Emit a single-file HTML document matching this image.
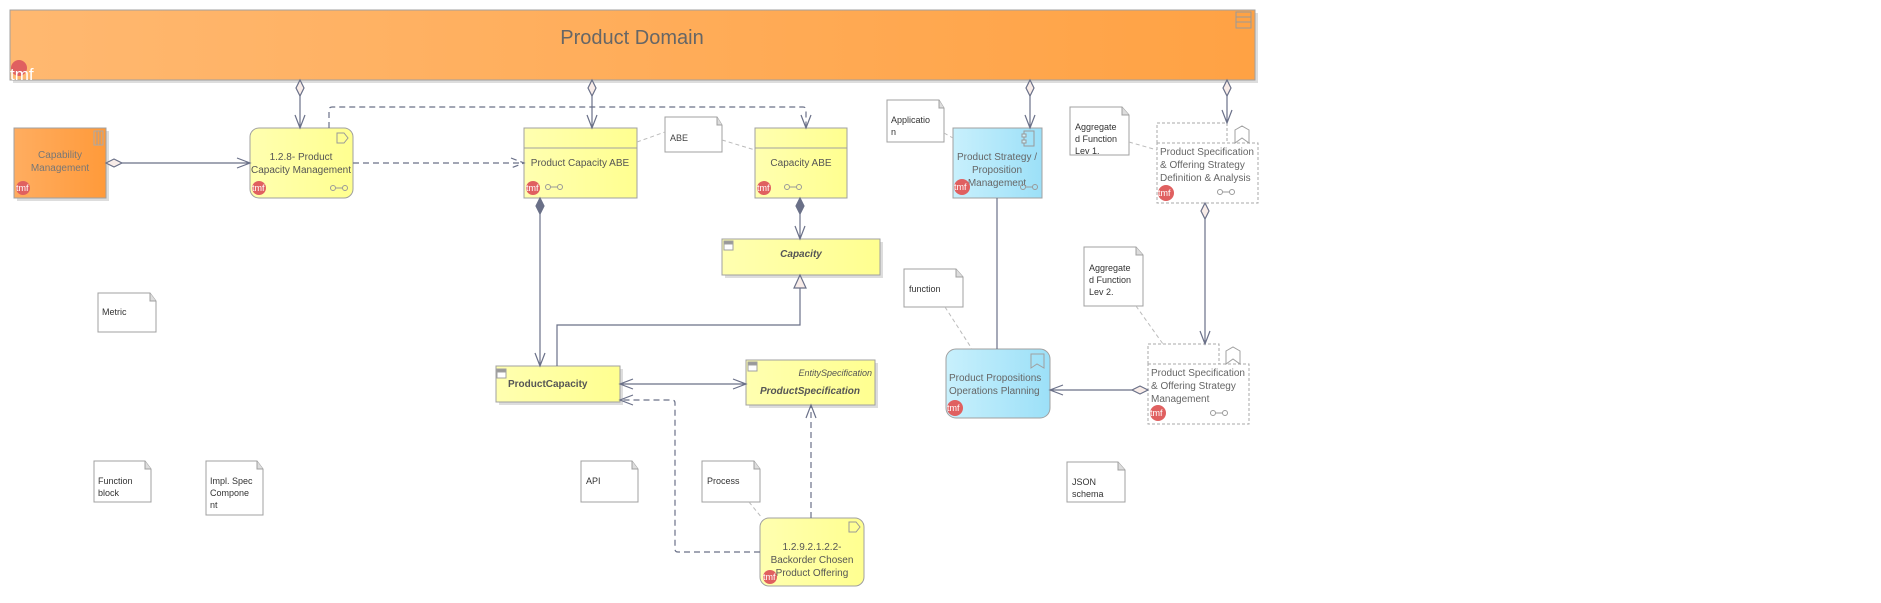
<!DOCTYPE html>
<html><head><meta charset="utf-8"><style>
html,body{margin:0;padding:0;background:#fff;}
svg text{font-family:"Liberation Sans",sans-serif;}
</style></head><body>
<svg width="1881" height="598" viewBox="0 0 1881 598" xmlns="http://www.w3.org/2000/svg">
<defs>
<linearGradient id="gO" x1="0" x2="1"><stop offset="0" stop-color="#ffb870"/><stop offset="1" stop-color="#ffa244"/></linearGradient>
<linearGradient id="gO2" x1="0" x2="1"><stop offset="0" stop-color="#ffad60"/><stop offset="1" stop-color="#ff9a3a"/></linearGradient>
<linearGradient id="gY" x1="0" x2="1"><stop offset="0" stop-color="#ffffb0"/><stop offset="1" stop-color="#ffff90"/></linearGradient>
<linearGradient id="gB" x1="0" x2="1"><stop offset="0" stop-color="#c8f0fc"/><stop offset="1" stop-color="#9ce0f8"/></linearGradient>
</defs>
<g stroke="#a0a0a0" fill="none">
<!-- banner -->
<rect x="13" y="13" width="1245" height="70" fill="#ddd" stroke="none"/>
<rect x="10" y="10" width="1245" height="70" fill="url(#gO)"/>
<text x="632" y="44" font-size="20" fill="#666" stroke="none" text-anchor="middle">Product Domain</text>
<g stroke="#999"><rect x="1236" y="12" width="15" height="16"/><line x1="1236" y1="17" x2="1251" y2="17"/><line x1="1236" y1="22" x2="1251" y2="22"/></g>
<circle cx="19" cy="68" r="8" fill="#e06060" stroke="none"/>
<text x="10" y="80" font-size="17" fill="#fff" stroke="none">tmf</text>

<!-- Capability Management -->
<rect x="17" y="131" width="92" height="70" fill="#ddd" stroke="none"/>
<rect x="14" y="128" width="92" height="70" fill="url(#gO2)"/>
<rect x="94" y="131" width="9" height="14" stroke="#aaa"/><line x1="97" y1="131" x2="97" y2="145"/><line x1="100" y1="131" x2="100" y2="145"/>
<text x="60" y="158" font-size="10" fill="#777" stroke="none" text-anchor="middle">Capability</text>
<text x="60" y="171" font-size="10" fill="#777" stroke="none" text-anchor="middle">Management</text>

<!-- 1.2.8 -->
<rect x="250" y="128" width="103" height="70" rx="9" fill="url(#gY)"/>
<path d="M337 133h7l4 5-4 5h-7z" stroke="#999"/>
<text x="301" y="160" font-size="10" fill="#555" stroke="none" text-anchor="middle">1.2.8- Product</text>
<text x="301" y="173" font-size="10" fill="#555" stroke="none" text-anchor="middle">Capacity Management</text>

<!-- Product Capacity ABE -->
<rect x="524" y="128" width="113" height="70" fill="url(#gY)"/>
<line x1="524" y1="148" x2="637" y2="148"/>
<text x="580" y="166" font-size="10" fill="#555" stroke="none" text-anchor="middle">Product Capacity ABE</text>
<!-- ABE note -->
<path d="M665 117h52l5 8v27h-57z" fill="#fff"/><path d="M717 117v8h5" fill="#ddd"/>
<text x="670" y="141" font-size="9" fill="#444" stroke="none">ABE</text>
<!-- Capacity ABE -->
<rect x="755" y="128" width="92" height="70" fill="url(#gY)"/>
<line x1="755" y1="148" x2="847" y2="148"/>
<text x="801" y="166" font-size="10" fill="#555" stroke="none" text-anchor="middle">Capacity ABE</text>

<!-- Capacity class -->
<rect x="725" y="242" width="158" height="36" fill="#ddd" stroke="none"/>
<rect x="722" y="239" width="158" height="36" fill="url(#gY)"/>
<rect x="724" y="241" width="9" height="9" fill="#fff"/><rect x="724" y="241" width="9" height="3" fill="#999"/>
<text x="801" y="257" font-size="10" font-style="italic" font-weight="bold" fill="#555" stroke="none" text-anchor="middle">Capacity</text>

<!-- ProductCapacity -->
<rect x="499" y="369" width="124" height="36" fill="#ddd" stroke="none"/>
<rect x="496" y="366" width="124" height="36" fill="url(#gY)"/>
<rect x="497" y="369" width="9" height="9" fill="#fff"/><rect x="497" y="369" width="9" height="3" fill="#999"/>
<text x="508" y="387" font-size="10" font-weight="bold" fill="#555" stroke="none">ProductCapacity</text>

<!-- ProductSpecification -->
<rect x="749" y="363" width="129" height="45" fill="#ddd" stroke="none"/>
<rect x="746" y="360" width="129" height="45" fill="url(#gY)"/>
<rect x="748" y="362" width="9" height="9" fill="#fff"/><rect x="748" y="362" width="9" height="3" fill="#999"/>
<text x="872" y="376" font-size="9" font-style="italic" fill="#555" stroke="none" text-anchor="end">EntitySpecification</text>
<text x="810" y="394" font-size="10" font-style="italic" font-weight="bold" fill="#555" stroke="none" text-anchor="middle">ProductSpecification</text>

<!-- Backorder -->
<rect x="760" y="518" width="104" height="68" rx="9" fill="url(#gY)"/>
<path d="M849 522h7l4 5-4 5h-7z" stroke="#999"/>
<text x="812" y="550" font-size="10" fill="#555" stroke="none" text-anchor="middle">1.2.9.2.1.2.2-</text>
<text x="812" y="563" font-size="10" fill="#555" stroke="none" text-anchor="middle">Backorder Chosen</text>
<text x="812" y="576" font-size="10" fill="#555" stroke="none" text-anchor="middle">Product Offering</text>

<!-- notes -->
<g fill="#fff">
<path d="M98 293h52l6 8v31h-58z"/><path d="M887 100h52l5 8v34h-57z"/>
<path d="M1070 107h52l7 8v40h-59z"/><path d="M904 269h52l7 8v30h-59z"/>
<path d="M1084 247h52l7 8v51h-59z"/><path d="M94 461h51l6 8v33h-57z"/>
<path d="M206 461h51l6 8v46h-57z"/><path d="M581 461h51l6 8v33h-57z"/>
<path d="M702 461h52l6 8v33h-58z"/><path d="M1067 462h51l7 8v32h-58z"/>
</g>
<g fill="#ddd">
<path d="M150 293v8h6"/><path d="M939 100v8h5"/><path d="M1122 107v8h7"/><path d="M956 269v8h7"/>
<path d="M1136 247v8h7"/><path d="M145 461v8h6"/><path d="M257 461v8h6"/><path d="M632 461v8h6"/><path d="M754 461v8h6"/><path d="M1118 462v8h7"/>
</g>
<g font-size="9" fill="#333" stroke="none">
<text x="102" y="315">Metric</text>
<text x="891" y="123">Applicatio</text><text x="891" y="135">n</text>
<text x="1075" y="130">Aggregate</text><text x="1075" y="142">d Function</text><text x="1075" y="154">Lev 1.</text>
<text x="909" y="292">function</text>
<text x="1089" y="271">Aggregate</text><text x="1089" y="283">d Function</text><text x="1089" y="295">Lev 2.</text>
<text x="98" y="484">Function</text><text x="98" y="496">block</text>
<text x="210" y="484">Impl. Spec</text><text x="210" y="496">Compone</text><text x="210" y="508">nt</text>
<text x="586" y="484">API</text>
<text x="707" y="484">Process</text>
<text x="1072" y="485">JSON</text><text x="1072" y="497">schema</text>
</g>

<!-- Product Strategy -->
<rect x="953" y="128" width="89" height="70" fill="url(#gB)"/>
<rect x="1024" y="131" width="10" height="15" stroke="#999"/><rect x="1022" y="134" width="4" height="3" fill="#c8f0fc" stroke="#999"/><rect x="1022" y="140" width="4" height="3" fill="#c8f0fc" stroke="#999"/>
<text x="997" y="160" font-size="10" fill="#666" stroke="none" text-anchor="middle">Product Strategy /</text>
<text x="997" y="173" font-size="10" fill="#666" stroke="none" text-anchor="middle">Proposition</text>
<text x="997" y="186" font-size="10" fill="#666" stroke="none" text-anchor="middle">Management</text>

<!-- PS&OS Definition -->
<g stroke-dasharray="3,2" stroke="#aaa">
<path d="M1157 143v-20h70v20"/><rect x="1157" y="143" width="101" height="60" fill="#fff"/>
<path d="M1148 364v-20h71v20"/><rect x="1148" y="364" width="101" height="60" fill="#fff"/>
</g>
<path d="M1235 143v-13l7-4 7 4v13l-7-5z"/>
<path d="M1226 364v-13l7-4 7 4v13l-7-5z"/>
<g font-size="10" fill="#666" stroke="none">
<text x="1160" y="155">Product Specification</text><text x="1160" y="168">&amp; Offering Strategy</text><text x="1160" y="181">Definition &amp; Analysis</text>
<text x="1151" y="376">Product Specification</text><text x="1151" y="389">&amp; Offering Strategy</text><text x="1151" y="402">Management</text>
</g>

<!-- Ops Planning -->
<rect x="946" y="349" width="104" height="69" rx="10" fill="url(#gB)"/>
<path d="M1031 354v14l6-4 7 4v-14z"/>
<text x="949" y="381" font-size="10" fill="#666" stroke="none">Product Propositions</text>
<text x="949" y="394" font-size="10" fill="#666" stroke="none">Operations Planning</text>
</g>

<!-- connectors -->
<g stroke="#6a7088" fill="none" stroke-width="1.2">
<!-- banner aggregations -->
<g fill="#f8ece8">
<path d="M300 80l4 8-4 8-4-8z"/><path d="M592 80l4 8-4 8-4-8z"/><path d="M1030 80l4 8-4 8-4-8z"/><path d="M1227 80l4 8-4 8-4-8z"/>
<path d="M106 163l8-4 8 4-8 4z"/><path d="M1205 203l4 8-4 8-4-8z"/><path d="M1148 390l-8-4-8 4 8 4z"/>
</g>
<path d="M300 96V128M295 115l5 13 5-13"/>
<path d="M592 96V128M587 115l5 13 5-13"/>
<path d="M1030 96V128M1025 115l5 13 5-13"/>
<path d="M1227 96V123M1222 110l5 13 5-13"/>
<path d="M122 163H250M237 158l13 5-13 5"/>
<path d="M1205 219V344M1200 331l5 13 5-13"/>
<path d="M1132 390H1050M1063 385l-13 5 13 5"/>
<path d="M997 198V349"/>
<g stroke-dasharray="6,4">
<path d="M353 163H524M511 158l13 5-13 5" />
<path d="M329 128V110q0-3 3-3H803q3 0 3 3V128"/>
<path d="M760 552H678q-3 0-3-3V403q0-3-3-3H620"/>
<path d="M811 518V405"/>
</g>
<path d="M801 115l5 13 5-13"/>
<path d="M633 395l-13 5 13 5"/><path d="M806 418l5-13 5 13"/>
<!-- compositions -->
<path d="M540 198l4 8-4 8-4-8z" fill="#6a7088"/>
<path d="M540 214V366M535 353l5 13 5-13"/>
<path d="M800 198l4 8-4 8-4-8z" fill="#6a7088"/>
<path d="M800 214V239M795 226l5 13 5-13"/>
<!-- generalization -->
<path d="M557 366V325H800V288"/>
<path d="M800 275l-6 13h12z" fill="#f8ece8"/>
<!-- association -->
<path d="M620 384H746M633 379l-13 5 13 5M733 379l13 5-13 5"/>
</g>
<!-- note links -->
<g stroke="#bbb" stroke-dasharray="4,3" fill="none">
<path d="M637 142L665 132M722 140L755 150"/>
<path d="M944 133L953 138"/>
<path d="M1129 142L1157 150"/>
<path d="M945 307L972 349"/>
<path d="M1136 306L1163 344"/>
<path d="M749 502L762 518"/>
</g>
<!-- tmf badges -->
<g font-size="9" fill="#fff">
<circle cx="23" cy="188" r="7" fill="#e06060"/><text x="16" y="191">tmf</text>
<circle cx="259" cy="188" r="7" fill="#e06060"/><text x="252" y="191">tmf</text>
<circle cx="533" cy="188" r="7" fill="#e06060"/><text x="526" y="191">tmf</text>
<circle cx="764" cy="188" r="7" fill="#e06060"/><text x="757" y="191">tmf</text>
<circle cx="962" cy="187" r="8" fill="#e06060"/><text x="954" y="190">tmf</text>
<circle cx="1166" cy="193" r="8" fill="#e06060"/><text x="1158" y="196">tmf</text>
<circle cx="955" cy="408" r="8" fill="#e06060"/><text x="947" y="411">tmf</text>
<circle cx="1158" cy="413" r="8" fill="#e06060"/><text x="1150" y="416">tmf</text>
<circle cx="770" cy="577" r="7" fill="#e06060"/><text x="763" y="580">tmf</text>
</g>
<!-- link icons -->
<g stroke="#999" fill="none">
<path d="M336 188h6M1026 187h6M1223 192h6M1216 413h6M551 187h6M790 187h6"/>
<circle cx="333" cy="188" r="2.5"/><circle cx="345" cy="188" r="2.5"/>
<circle cx="548" cy="187" r="2.5"/><circle cx="560" cy="187" r="2.5"/>
<circle cx="787" cy="187" r="2.5"/><circle cx="799" cy="187" r="2.5"/>
<circle cx="1023" cy="187" r="2.5"/><circle cx="1035" cy="187" r="2.5"/>
<circle cx="1220" cy="192" r="2.5"/><circle cx="1232" cy="192" r="2.5"/>
<circle cx="1213" cy="413" r="2.5"/><circle cx="1225" cy="413" r="2.5"/>
</g>
</svg>
</body></html>
